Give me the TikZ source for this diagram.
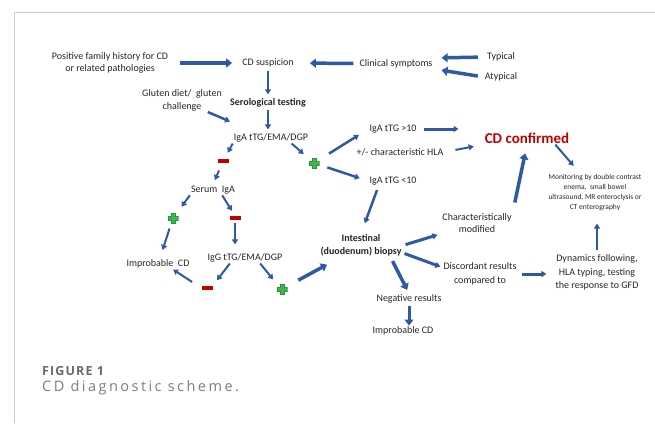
\documentclass[tikz,border=0pt]{standalone}
\usepackage{fontspec}
\setmainfont{Carlito}
\newfontfamily\figfont{Open Sans}[LetterSpace=9]
\newfontfamily\capfont{Open Sans}[LetterSpace=17]
\usetikzlibrary{arrows.meta}

\definecolor{arrblue}{RGB}{47,88,166}
\definecolor{txtgray}{RGB}{38,38,38}
\definecolor{cdred}{RGB}{192,0,0}
\definecolor{plusgreen}{RGB}{62,181,74}
\definecolor{plusedge}{RGB}{40,150,60}
\definecolor{framegray}{RGB}{205,205,205}
\definecolor{capgray}{RGB}{105,105,105}
\definecolor{capgraylight}{RGB}{125,125,125}

\tikzset{
  lbl/.style={font=\fontsize{10}{12}\selectfont, text=txtgray, inner sep=1pt, align=center},
  boldlbl/.style={lbl, font=\fontsize{10}{13}\selectfont\bfseries},
  arr/.style={draw=arrblue, line width=2pt, -{Triangle[length=5pt,width=6pt]}},
  fatarr/.style={draw=arrblue, line width=3.5pt, -{Triangle[length=6pt,width=9pt]}},
  minusnode/.style={fill=cdred, minimum width=11pt, minimum height=4pt, inner sep=0pt},
  plusnode/.style={minimum size=11pt, inner sep=0pt,
    path picture={\filldraw[fill=plusgreen, draw=plusedge, line width=0.7pt]
      ([xshift=-2pt,yshift=-5pt]path picture bounding box.center) -- ++(4pt,0pt) -- ++(0pt,3pt)
      -- ++(3pt,0pt) -- ++(0pt,4pt) -- ++(-3pt,0pt) -- ++(0pt,3pt) -- ++(-4pt,0pt) -- ++(0pt,-3pt)
      -- ++(-3pt,0pt) -- ++(0pt,-4pt) -- ++(3pt,0pt) -- cycle;}}
}

\begin{document}
\begin{tikzpicture}[x=1pt, y=-1pt]
\useasboundingbox (0,0) rectangle (655,423);
\draw[framegray, line width=1pt] (14,423) -- (14,12) -- (655,12);

\node[lbl] (pos) at (110,63) {Positive family history for CD\\or related pathologies};
\node[lbl] (susp) at (268,63) {CD suspicion};
\node[lbl] (clin) at (396,63.5) {Clinical symptoms};
\node[lbl] (typ) at (501,57) {Typical};
\node[lbl] (atyp) at (501,77) {Atypical};
\node[boldlbl] (sero) at (268,103) {Serological testing};
\node[lbl, font=\fontsize{10}{13}\selectfont] (glut) at (182,100) {Gluten diet/~ gluten\\challenge};
\node[lbl] (iga) at (271,138) {IgA tTG/EMA/DGP};
\node[minusnode] (mA) at (223,161) {};
\node[lbl] (serum) at (213,190) {Serum~ IgA};
\node[plusnode] (pA) at (173,218) {};
\node[lbl] (impA) at (158,264) {Improbable~ CD};
\node[minusnode] (mB) at (235,218) {};
\node[lbl] (igg) at (245,258) {IgG tTG/EMA/DGP};
\node[minusnode] (mC) at (207,288) {};
\node[plusnode] (pB) at (282,289) {};
\node[boldlbl] (biop) at (361,245.5) {Intestinal\\(duodenum) biopsy};
\node[plusnode] (pC) at (314,163) {};
\node[lbl] (hi) at (393,129) {IgA tTG >10};
\node[lbl] (hla) at (400,152) {+/- characteristic HLA};
\node[lbl] (lo) at (393,181) {IgA tTG <10};
\node[font=\fontsize{15}{18}\selectfont\bfseries, text=cdred, inner sep=1pt] (conf) at (527,138) {CD confirmed};
\node[lbl] (charm) at (477,223) {Characteristically\\modified};
\node[lbl, font=\fontsize{7.5}{9.7}\selectfont] (monit) at (595,192.5) {Monitoring by double contrast\\enema,~ small bowel\\ultrasound, MR enteroclysis or\\CT enterography};
\node[lbl, font=\fontsize{10}{13.5}\selectfont] (dyn) at (597,272.5) {Dynamics following,\\HLA typing, testing\\the response to GFD};
\node[lbl, font=\fontsize{10}{14}\selectfont] (disc) at (480,274) {Discordant results\\compared to};
\node[lbl] (neg) at (409,299) {Negative results};
\node[lbl] (impB) at (403,331) {Improbable CD};

\draw[fatarr, shorten <=11pt, shorten >=9pt] (pos.east) -- (susp.west);
\draw[fatarr, shorten <=5pt, shorten >=15pt] (clin.west) -- (susp.east);
\draw[fatarr, shorten <=8pt, shorten >=8pt] (typ.west) -- (clin.north east);
\draw[fatarr, shorten <=6pt, shorten >=8pt] (atyp.west) -- (clin.south east);
\draw[arr, shorten <=3pt, shorten >=3pt] (susp) -- (sero);
\draw[arr, shorten <=1pt, shorten >=3pt] (sero) -- (sero |- iga.north);
\draw[arr, line width=2.5pt, shorten >=28pt] (glut.-25) -- (iga.160);
\draw[arr, shorten >=7pt] (iga.south west) -- (mA);
\draw[arr, shorten <=8pt, shorten >=5pt] (mA) -- (serum.north);
\draw[arr, shorten >=7pt] (serum.south west) -- (pA);
\draw[arr, shorten <=5pt, shorten >=9pt] (pA) -- (impA);
\draw[arr, shorten >=6pt] (serum.-30) -- (mB.north);
\draw[arr, shorten <=3pt, shorten >=8pt] (mB) -- (mB |- igg.north);
\draw[arr, shorten >=7pt] (igg.-160) -- (mC.north east);
\draw[arr, shorten <=11pt] (mC.west) -- (impA.-20);
\draw[arr, shorten >=5pt] (igg.-20) -- (pB.north west);
\draw[fatarr, shorten <=12pt, shorten >=15pt] (pB) -- (biop.-150);
\draw[arr, shorten >=6pt] (iga.-15) -- (pC);
\draw[arr, line width=2.5pt, shorten <=11pt, shorten >=11pt] (pC) -- (hi.west);
\draw[arr, line width=2.5pt, shorten <=8pt, shorten >=9pt] (pC) -- (lo.west);
\draw[arr, line width=3pt, shorten <=6pt, shorten >=25pt] (hi) -- (hi -| conf.west);
\draw[arr, shorten <=11pt, shorten >=10pt] (hla.east) -- (conf.south west);
\draw[arr, line width=2.5pt, shorten <=4pt, shorten >=11pt] (lo.-160) -- (biop.north);
\draw[arr, line width=3pt, shorten <=3pt, shorten >=4pt] (biop.east) -- (charm.south west);
\draw[fatarr, shorten <=10pt, shorten >=9pt] (charm.north east) -- (conf.south);
\draw[arr, shorten >=10pt] (conf.-13) -- (monit.128);
\draw[arr, shorten <=4pt, shorten >=12pt] (dyn) -- (dyn |- monit.south);
\draw[arr, line width=3pt, shorten <=2pt, shorten >=2pt] (biop.-10) -- (disc.170);
\draw[arr, line width=3pt, shorten <=4pt, shorten >=8pt] (disc) -- (disc -| dyn.west);
\draw[fatarr, shorten <=4pt, shorten >=4pt] (biop.-22) -- (neg.north);
\draw[fatarr, line width=3pt, shorten <=1pt] (neg) -- (neg |- impB.north);

\node[anchor=west, inner sep=0pt, text=capgray, font=\figfont\fontsize{12.5}{15}\selectfont\bfseries] (fig) at (42,371) {FIGURE 1};
\node[anchor=west, inner sep=0pt, text=capgraylight, font=\capfont\fontsize{14.5}{17}\selectfont] (cap) at (42,388) {CD diagnostic scheme.};
\end{tikzpicture}
\end{document}
